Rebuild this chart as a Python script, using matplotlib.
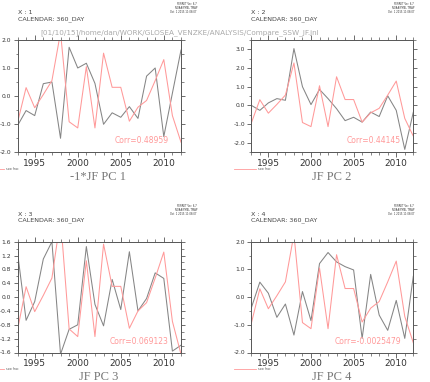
import matplotlib
matplotlib.use("Agg")
import matplotlib.pyplot as plt
from matplotlib.ticker import MultipleLocator, FixedLocator
import numpy as np

years = list(range(1993, 2013))

ssw_frac = [-0.95, 0.30, -0.42, 0.05, 0.55, 2.27, -0.92, -1.14, 1.05, -1.14, 1.53,
            0.31, 0.31, -0.90, -0.40, -0.16, 0.55, 1.30, -0.70, -1.65]

pc1 = [-1.06, -0.52, -0.70, 0.44, 0.50, -1.51, 1.74, 1.00, 1.17, 0.45, -1.01,
       -0.60, -0.76, -0.38, -0.80, 0.71, 1.00, -1.45, 0.10, 1.64]
pc2 = [0.00, -0.27, 0.13, 0.36, 0.27, 3.04, 1.00, 0.04, 0.85, 0.36, -0.18,
       -0.82, -0.64, -0.90, -0.36, -0.60, 0.51, -0.27, -2.36, -0.37]
pc3 = [1.30, -0.67, -0.13, 1.10, 1.60, -1.65, -0.93, -0.80, 1.46, -0.21, -0.83,
       0.51, -0.36, 1.31, -0.40, -0.04, 0.70, 0.54, -1.56, -1.39]
pc4 = [-0.39, 0.54, 0.14, -0.73, -0.25, -1.37, 0.20, -0.85, 1.21, 1.61, 1.27,
       1.10, 0.98, -1.49, 0.82, -0.65, -1.20, -0.12, -1.49, 0.75]

pcs = [pc1, pc2, pc3, pc4]
panel_ids = ["1", "2", "3", "4"]
titles = ["-1*JF PC 1", "JF PC 2", "JF PC 3", "JF PC 4"]
corr_labels = ["Corr=0.48959", "Corr=0.44145", "Corr=0.069123", "Corr=-0.0025479"]
ylims = [(-2.0, 2.0), (-2.5, 3.5), (-1.6, 1.6), (-2.0, 2.0)]
ymajor = [1.0, 1.0, 0.4, 1.0]
yminor = [0.5, 0.5, 0.2, 0.5]
xlabels_years = [1995, 2000, 2005, 2010]
path_title = "[01/10/15]/home/dan/WORK/GLOSEA_VENZKE/ANALYSIS/Compare_SSW_JF.jnl"
legend_label = "ssw frac"
ferret_lines = "FERRET Ver. 6.7\nNOAA/PMEL TMAP\nOct  1 2015 11:08:07"

W, H = 430, 382
fig = plt.figure(figsize=(W / 100, H / 100), dpi=100)
fig.patch.set_facecolor("white")

def fx(px):
    return px / W

def fy(py):
    return 1 - py / H

# axes boxes in pixels: left, top, right, bottom
boxes = [(17.5, 40, 181, 152), (251.3, 40, 413.3, 152),
         (17.5, 241.7, 181, 352.5), (251.3, 241.7, 413.3, 352.5)]

gray = "#858585"
red = "#ff9999"
axcol = "#555555"

for k in range(4):
    l, t, r, b = boxes[k]
    ax = fig.add_axes([fx(l), fy(b), (r - l) / W, (b - t) / H])
    ax.plot(years, pcs[k], color=gray, lw=0.75)
    ax.plot(years, ssw_frac, color=red, lw=0.75)
    ax.set_xlim(1993, 2012)
    ax.set_ylim(*ylims[k])
    ax.xaxis.set_major_locator(FixedLocator(xlabels_years))
    ax.xaxis.set_minor_locator(MultipleLocator(1))
    ax.yaxis.set_major_locator(MultipleLocator(ymajor[k]))
    ax.yaxis.set_minor_locator(MultipleLocator(yminor[k]))
    ax.set_xticklabels([str(y) for y in xlabels_years], fontsize=6.5, color="#333333")
    ax.yaxis.set_major_formatter(matplotlib.ticker.FormatStrFormatter("%.1f"))
    ax.tick_params(axis="y", which="major", labelsize=4.3, labelcolor="#333333",
                   length=3, width=0.6, color=axcol, direction="out", right=True, pad=1.5)
    ax.tick_params(axis="y", which="minor", length=1.8, width=0.5, color=axcol,
                   direction="out", right=True)
    ax.tick_params(axis="x", which="major", length=3.5, width=0.6, color=axcol,
                   direction="out", top=True, pad=1.5)
    ax.tick_params(axis="x", which="minor", length=2, width=0.5, color=axcol,
                   direction="out", top=True)
    for s in ax.spines.values():
        s.set_color(axcol)
        s.set_linewidth(0.7)
    ax.text(0.925, 0.06, corr_labels[k], transform=ax.transAxes, ha="right",
            va="bottom", color=red, fontsize=5.5)

    # header texts
    hx = l
    hy = t - 27 if k < 2 else t - 27.7
    fig.text(fx(hx), fy(hy), "X : " + panel_ids[k], fontsize=4.6,
             color="#444444", va="center", ha="left")
    fig.text(fx(hx), fy(hy + 6.5), "CALENDAR: 360_DAY", fontsize=4.6,
             color="#444444", va="center", ha="left")
    fx_right = 197 if k % 2 == 0 else 414
    fig.text(fx(fx_right), fy(t - 38), ferret_lines,
             fontsize=1.8, ha="right", va="top", color="#333333", linespacing=1.0)

    # legend below panel
    ly = b + 16.5
    lx0 = l - 17.5
    fig.add_artist(plt.Line2D([fx(lx0 - 18 if k % 2 == 0 else lx0), fx(lx0 + 4 if k % 2 == 0 else lx0 + 22)],
                              [fy(ly), fy(ly)], color=red, lw=0.6))
    fig.text(fx(lx0 + (6 if k % 2 == 0 else 24)), fy(ly), legend_label, fontsize=2.2,
             color="#555555", va="center", ha="left")

    # bottom title
    fig.text(fx((l + r) / 2 - 1), fy(b + 25), titles[k], fontsize=9,
             family=["Liberation Serif", "DejaVu Serif"], color="#777777",
             ha="center", va="center")

fig.text(fx(40), fy(33), path_title, fontsize=5.2, color="#aaaaaa",
         ha="left", va="center")

fig.savefig("out.png", dpi=100)
